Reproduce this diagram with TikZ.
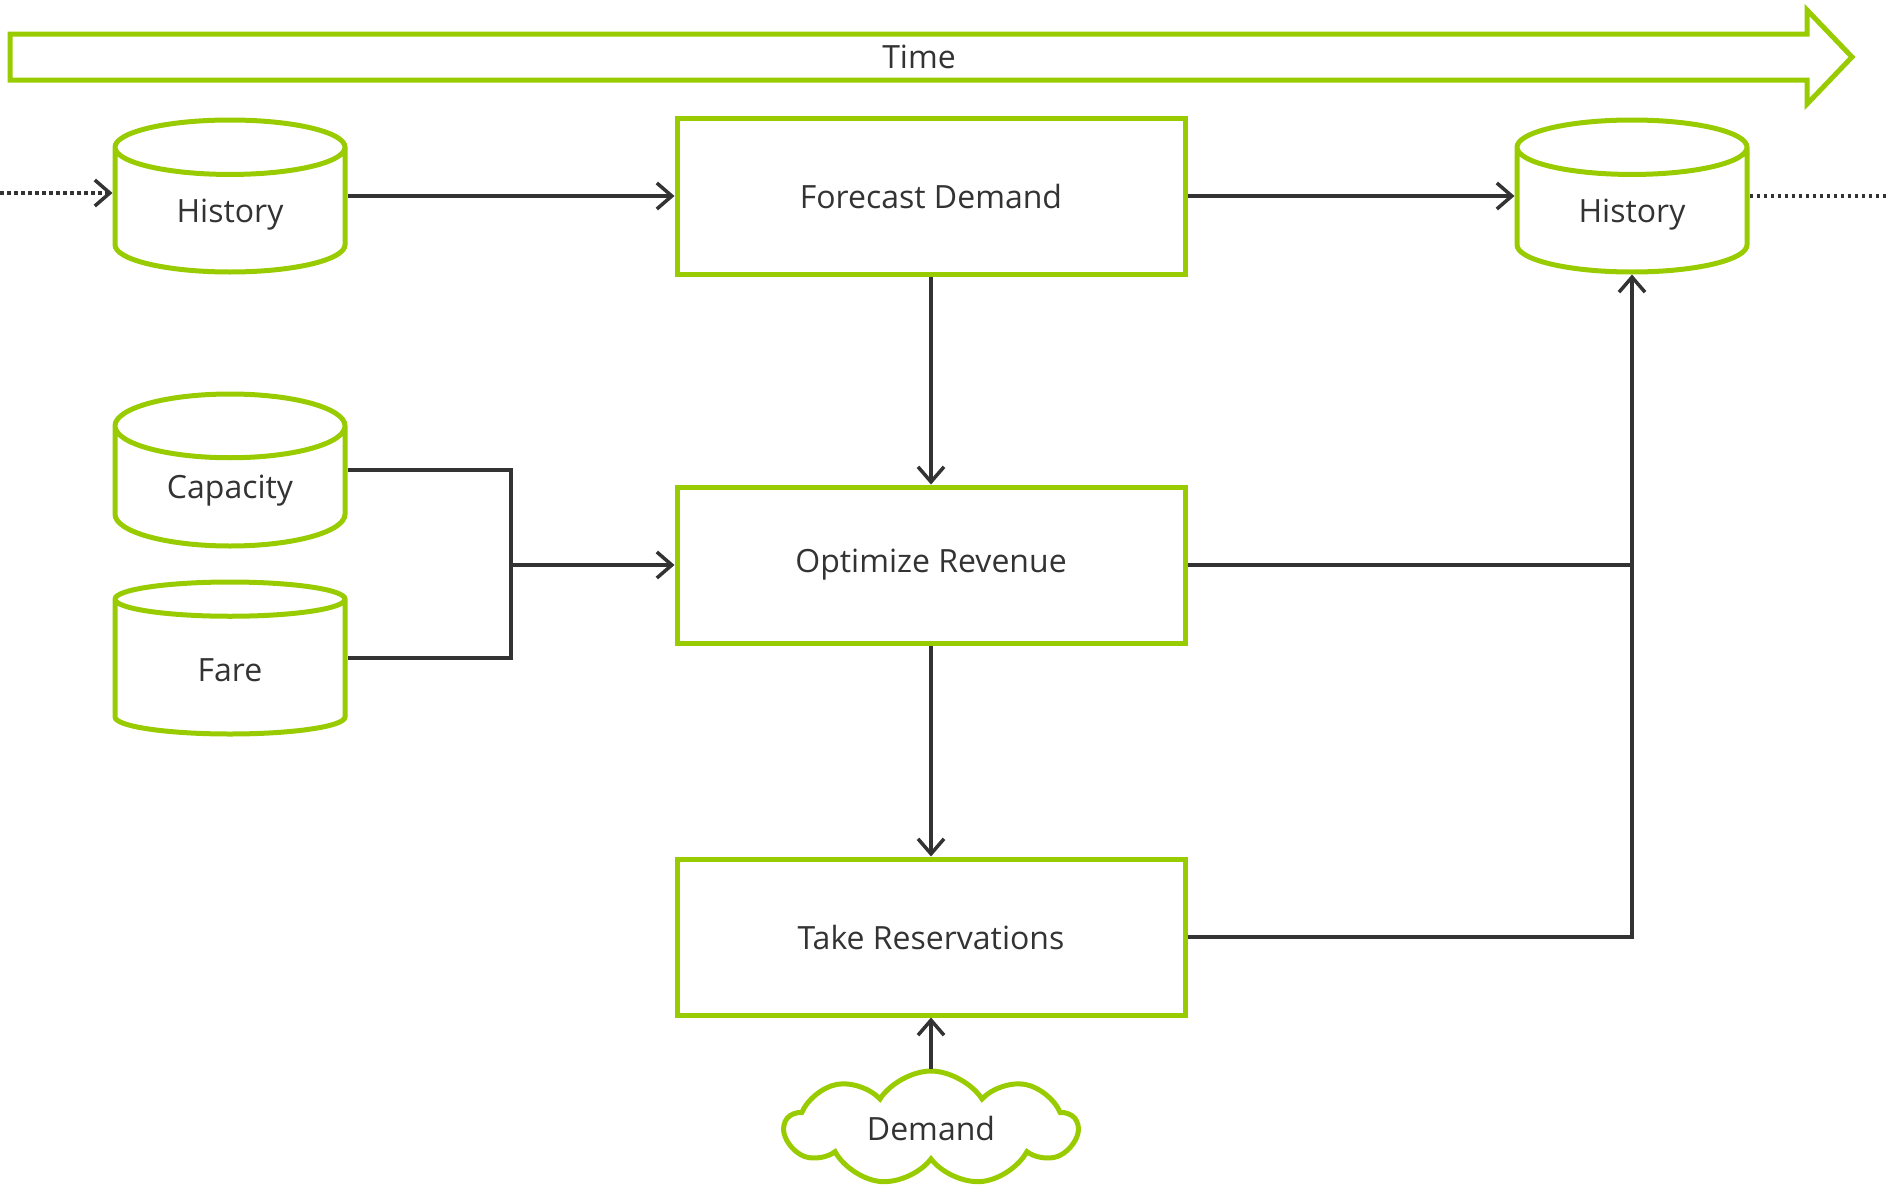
\documentclass[tikz,border=0pt]{standalone}
\usepackage{fontspec}
\setmainfont{Open Sans}
\usepackage{tikz}
\usetikzlibrary{shapes,arrows.meta,positioning,calc}
\definecolor{rmGreen}{RGB}{153,204,0}
\definecolor{rmGray}{RGB}{51,51,51}

\begin{document}
\begin{tikzpicture}[x=1pt, y=-1pt,
    every node/.style={text=rmGray, font=\fontsize{32}{38}\selectfont},
    step box/.style={rectangle, draw=rmGreen, line width=5pt, minimum width=508pt, minimum height=156pt},
    store/.style={cylinder, shape border rotate=90, aspect=0.48, draw=rmGreen, line width=5pt,
                  minimum width=230pt, minimum height=152pt, anchor=shape center},
    wire/.style={draw=rmGray, line width=3.5pt},
    flow/.style={wire, -{Straight Barb[length=15pt, width=26pt, line width=3.5pt]}},
    offpage/.style={flow, dash pattern=on 3.5pt off 3.5pt}]
    \useasboundingbox (0,0) rectangle (1886,1191);

    % time line along the top
    \draw[rmGreen, line width=5pt, line join=miter]
        (10,34) -- (1807,34) -- (1807,10) -- (1852,57) -- (1807,104) -- (1807,80) -- (10,80) -- cycle;
    \node (time) at (919,57) {Time};

    % process steps
    \node[step box] (forecast) at (931,196) {Forecast Demand};
    \node[step box] (optimize) at (931,565) {Optimize Revenue};
    \node[step box] (reserve) at (931,937) {Take Reservations};

    % data stores
    \node[store] (histIn) at (230,196) {History};
    \node[store] (capacity) at (230,470) {Capacity};
    \node[store] (fare) at (230,658) {Fare};
    \node[store] (histOut) at (1632,196) {History};

    % demand from outside
    \node[cloud, cloud puffs=9, cloud puff arc=115, aspect=2.6, draw=rmGreen, line width=5pt,
          minimum width=292pt, minimum height=114pt] (demand) at (931,1128) {Demand};

    \coordinate (pastIn) at (0,193);
    \coordinate (nextOut) at (1886,196);
    \coordinate (merge) at (511,565);
    \coordinate (upLine) at (1632,565);

    \draw[offpage] (pastIn) -- (histIn.west |- pastIn);
    \draw[wire, dash pattern=on 3.5pt off 3.5pt] (histOut.east |- nextOut) -- (nextOut);
    \draw[flow] (histIn.east |- forecast) -- (forecast.west);
    \draw[flow] (forecast.east) -- (histOut.west |- forecast);
    \draw[flow] (forecast.south) -- (optimize.north);
    \draw[flow] (optimize.south) -- (reserve.north);
    \draw[wire] (capacity.east |- capacity.shape center) -| (merge) |- (fare.east |- fare.shape center);
    \draw[flow] (merge) -- (optimize.west);
    \draw[wire] (optimize.east) -- (upLine);
    \draw[flow] (reserve.east) -| (histOut.south);
    \draw[flow] (demand.north) -- (reserve.south);
\end{tikzpicture}
\end{document}
